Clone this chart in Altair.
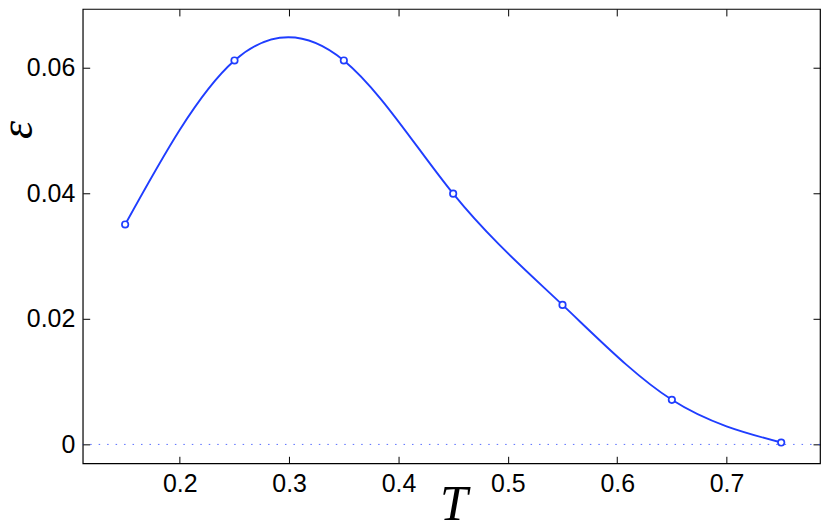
import altair as alt
import pandas as pd

T = [0.15, 0.25, 0.35, 0.45, 0.55, 0.65, 0.75]
eps = [0.0350, 0.0611, 0.0611, 0.0399, 0.0222, 0.0071, 0.0003]
x_ticks = [0.2, 0.3, 0.4, 0.5, 0.6, 0.7]
y_ticks = [0, 0.02, 0.04, 0.06]
x_domain = [0.1112, 0.7855]
y_domain = [-0.0030, 0.0693]

df = pd.DataFrame({"T": T, "eps": eps})
zero = pd.DataFrame({"eps": [0]})

BLUE = "#1f3dff"
TICK = 7

xscale = alt.Scale(domain=x_domain, nice=False, zero=False)
yscale = alt.Scale(domain=y_domain, nice=False, zero=False)

x_bottom = alt.X("T:Q", scale=xscale, axis=alt.Axis(
    orient="bottom", values=x_ticks, format="~g", domain=False, grid=False,
    offset=-TICK, tickSize=TICK, tickColor="black", labelPadding=8,
    labelFont="Liberation Sans", labelFontSize=25, labelColor="black",
    title="T", titleFont="Liberation Serif", titleFontStyle="italic",
    titleFontWeight="normal", titleFontSize=50, titleColor="black",
    titleX=372, titleY=63, titleBaseline="alphabetic", titleAlign="center"))
y_left = alt.Y("eps:Q", scale=yscale, axis=alt.Axis(
    orient="left", values=y_ticks, format="~g", domain=False, grid=False,
    offset=-TICK, tickSize=TICK, tickColor="black", labelPadding=8,
    labelFont="Liberation Sans", labelFontSize=25, labelColor="black",
    title="ε", titleFont="Liberation Serif", titleFontStyle="italic",
    titleFontWeight="normal", titleFontSize=46, titleColor="black",
    titleAngle=270, titleX=-72, titleY=121, titleAlign="center",
    titleBaseline="middle"))

x_top = alt.X("T:Q", scale=xscale, axis=alt.Axis(
    orient="top", values=x_ticks, labels=False, domain=False, grid=False,
    offset=-TICK, tickSize=TICK, tickColor="black", title=None))
y_right = alt.Y("eps:Q", scale=yscale, axis=alt.Axis(
    orient="right", values=y_ticks, labels=False, domain=False, grid=False,
    offset=-TICK, tickSize=TICK, tickColor="black", title=None))

zero_line = alt.Chart(zero).mark_rule(
    color=BLUE, strokeWidth=1, strokeDash=[1.5, 7], opacity=0.75
).encode(y=alt.Y("eps:Q", scale=yscale, axis=None))

curve = alt.Chart(df).mark_line(
    color=BLUE, strokeWidth=1.9, interpolate="natural"
).encode(x=x_bottom, y=y_left)

pts = alt.Chart(df).mark_point(
    shape="circle", size=42, filled=False, fill="white", fillOpacity=1,
    stroke=BLUE, strokeWidth=1.7, opacity=1
).encode(x=x_top, y=y_right)

chart = alt.layer(zero_line, curve, pts).resolve_axis(
    x="independent", y="independent"
).properties(
    width=740, height=456,
    autosize=alt.AutoSizeParams(type="none"),
    padding={"left": 75, "top": 0, "right": 2, "bottom": 60},
).configure_view(stroke="black", strokeWidth=1.2)

chart.save("out.html", embed_options={"renderer": "svg", "actions": False})
